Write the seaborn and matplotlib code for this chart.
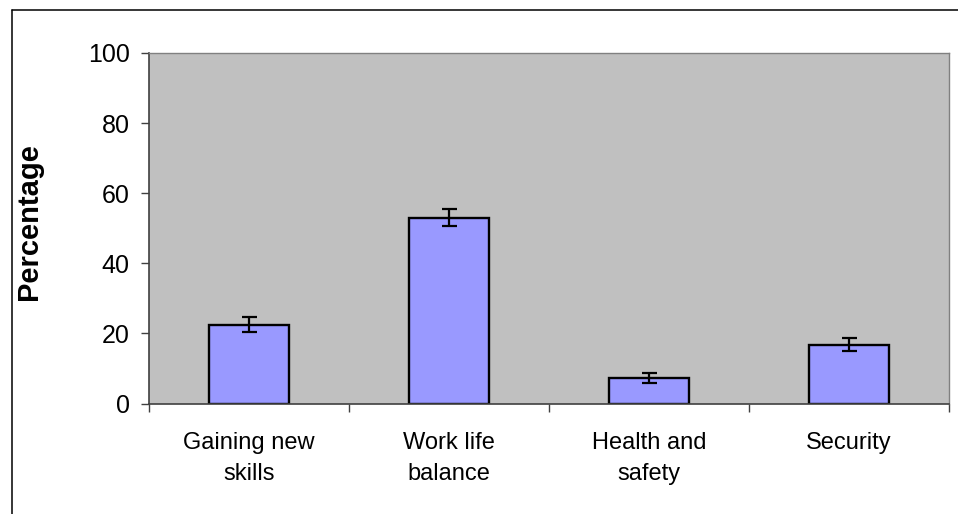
"""Bar chart of reported percentages with error bars (recreated in seaborn)."""
import matplotlib

matplotlib.use("Agg")
import matplotlib.pyplot as plt
import pandas as pd
import seaborn as sns
from matplotlib.lines import Line2D
from matplotlib.ticker import FixedLocator

categories = ["Gaining new\nskills", "Work life\nbalance", "Health and\nsafety", "Security"]
percentages = [22.5, 53.0, 7.3, 16.8]
errors = [2.1, 2.4, 1.4, 1.9]
y_ticks = [0, 20, 40, 60, 80, 100]

sns.set_theme(style="white")
plt.rcParams["font.family"] = ["Liberation Sans", "DejaVu Sans"]
plt.rcParams["text.color"] = "black"
plt.rcParams["xtick.labelcolor"] = "black"
plt.rcParams["ytick.labelcolor"] = "black"
plt.rcParams["axes.labelcolor"] = "black"

df = pd.DataFrame({"category": categories, "pct": percentages})

W, H = 958, 514
fig = plt.figure(figsize=(W / 100, H / 100), dpi=100)
ax = fig.add_axes([149 / W, 1 - 403.5 / H, 800 / W, 350.5 / H])
ax.set_facecolor("#c0c0c0")

sns.barplot(data=df, x="category", y="pct", width=0.4, color="#9999ff",
            saturation=1, edgecolor="black", linewidth=1.7, ax=ax)
ax.errorbar(range(len(categories)), percentages, yerr=errors, fmt="none",
            ecolor="black", elinewidth=1.6, capsize=5.4, capthick=1.6)

ax.set_xlim(-0.5, len(categories) - 0.5)
ax.set_ylim(0, 100)
ax.set_yticks(y_ticks)
ax.set_yticklabels([str(t) for t in y_ticks], fontsize=18, color="black")
ax.tick_params(axis="y", direction="out", length=6, width=1, color="#404040",
               pad=8, left=True, labelcolor="black")
ax.set_xticks(range(len(categories)))
ax.set_xticklabels(categories, fontsize=17, color="black", linespacing=1.55)
ax.tick_params(axis="x", which="major", length=0, pad=20.5, labelcolor="black")
ax.xaxis.set_minor_locator(FixedLocator([i - 0.5 for i in range(len(categories) + 1)]))
ax.tick_params(axis="x", which="minor", direction="out", length=6, width=1,
               color="#404040", bottom=True)

ax.set_xlabel("")
ax.set_ylabel("Percentage", fontsize=21, fontweight="bold", color="black")
ax.yaxis.set_label_coords(-0.1325, 0.52)

for side in ["left", "bottom"]:
    ax.spines[side].set_color("#404040")
    ax.spines[side].set_linewidth(1.2)
for side in ["top", "right"]:
    ax.spines[side].set_color("#808080")
    ax.spines[side].set_linewidth(1.0)

# outer chart frame (only left and top edges fall inside the image)
x0, y0 = 11.7 / W, 1 - 10 / H
fig.add_artist(Line2D([x0, x0], [-0.1, y0], color="black", lw=1.1))
fig.add_artist(Line2D([x0, 1.1], [y0, y0], color="black", lw=1.1))

fig.savefig("out.png", dpi=100)
